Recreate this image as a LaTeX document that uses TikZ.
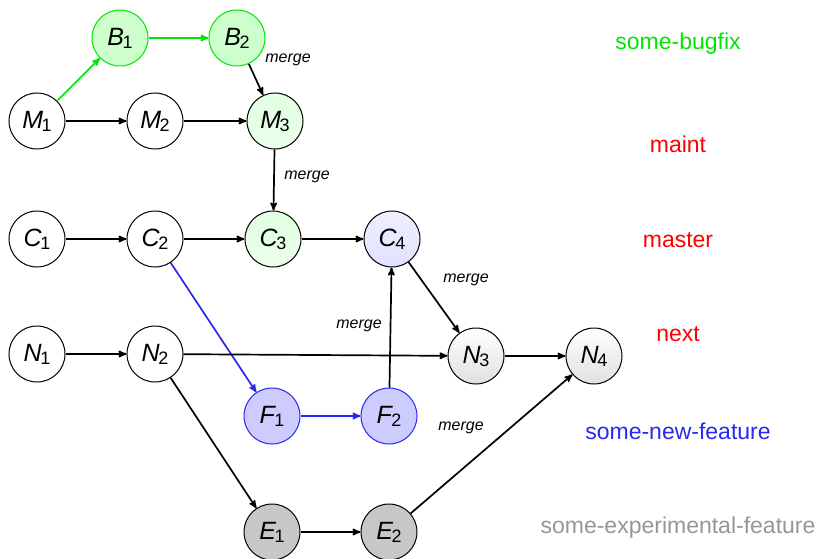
\documentclass[tikz,border=0pt]{standalone}
\usepackage{fontspec}
\setmainfont{Liberation Sans}
\usepackage{tikz}
\usetikzlibrary{shapes,arrows,positioning,calc}
\usepackage{xcolor}
\definecolor{buggreen}{RGB}{0,230,0}
\definecolor{featblue}{RGB}{40,40,240}
\definecolor{expgray}{RGB}{150,150,150}

\newcommand{\commit}[2]{\textit{#1}\kern-1.5pt\raisebox{-3pt}{\fontsize{18}{18}\selectfont #2}}

\tikzset{
  commit/.style={circle,draw=black,line width=1pt,minimum size=56pt,inner sep=0pt,
                 font=\fontsize{25}{28}\selectfont},
  plain/.style={commit,fill=white},
  bugfix/.style={commit,draw=buggreen,fill=green!20},
  merged/.style={commit,top color=green!12,bottom color=green!8!white},
  tipmaster/.style={commit,top color=blue!6,bottom color=blue!12},
  tipnext/.style={commit,top color=white,bottom color=black!12},
  feature/.style={commit,draw=featblue,fill=blue!20},
  experiment/.style={commit,fill=black!22},
  link/.style={-stealth',line width=1.7pt},
  mergelabel/.style={font=\fontsize{16}{18}\selectfont\itshape},
  branch/.style={font=\fontsize{23}{28}\selectfont}
}

\begin{document}
\begin{tikzpicture}[x=1pt,y=-1pt]
  \useasboundingbox (0,0) rectangle (822,559);

  % commits
  \node[bugfix] (b1) at (120,38) {\commit{B}{1}};
  \node[bugfix] (b2) at (237,38) {\commit{B}{2}};
  \node[plain] (m1) at (37,121) {\commit{M}{1}};
  \node[plain] (m2) at (155,121) {\commit{M}{2}};
  \node[merged] (m3) at (275,121) {\commit{M}{3}};
  \node[plain] (c1) at (37,239) {\commit{C}{1}};
  \node[plain] (c2) at (155,239) {\commit{C}{2}};
  \node[merged] (c3) at (273,239) {\commit{C}{3}};
  \node[tipmaster] (c4) at (392,239) {\commit{C}{4}};
  \node[plain] (n1) at (37,354) {\commit{N}{1}};
  \node[plain] (n2) at (155,354) {\commit{N}{2}};
  \node[tipnext] (n3) at (476,356) {\commit{N}{3}};
  \node[tipnext] (n4) at (594,356) {\commit{N}{4}};
  \node[feature] (f1) at (272,416) {\commit{F}{1}};
  \node[feature] (f2) at (389,416) {\commit{F}{2}};
  \node[experiment] (e1) at (272,532) {\commit{E}{1}};
  \node[experiment] (e2) at (389,532) {\commit{E}{2}};

  % history
  \draw[link,buggreen] (m1) -- (b1);
  \draw[link,buggreen] (b1) -- (b2);
  \draw[link] (b2) -- (m3);
  \draw[link] (m1) -- (m2);
  \draw[link] (m2) -- (m3);
  \draw[link] (m3) -- (c3);
  \draw[link] (c1) -- (c2);
  \draw[link] (c2) -- (c3);
  \draw[link] (c3) -- (c4);
  \draw[link,featblue] (c2) -- (f1);
  \draw[link,featblue] (f1) -- (f2);
  \draw[link] (f2) -- (c4);
  \draw[link] (c4) -- (n3);
  \draw[link] (n1) -- (n2);
  \draw[link] (n2) -- (n3);
  \draw[link] (n3) -- (n4);
  \draw[link] (n2) -- (e1);
  \draw[link] (e1) -- (e2);
  \draw[link] (e2) -- (n4);

  % merge notes
  \node[mergelabel] (mg1) at (288,60) {merge};
  \node[mergelabel] (mg2) at (307,177) {merge};
  \node[mergelabel] (mg3) at (466,280) {merge};
  \node[mergelabel] (mg4) at (359,326) {merge};
  \node[mergelabel] (mg5) at (461,428) {merge};

  % branch names
  \node[branch,text=buggreen] (lbugfix) at (678,44) {some-bugfix};
  \node[branch,text=red] (lmaint) at (678,144) {maint};
  \node[branch,text=red] (lmaster) at (678,240) {master};
  \node[branch,text=red] (lnext) at (678,334) {next};
  \node[branch,text=featblue] (lfeature) at (678,431) {some-new-feature};
  \node[branch,text=expgray] (lexp) at (678,528) {some-experimental-feature};
\end{tikzpicture}
\end{document}
